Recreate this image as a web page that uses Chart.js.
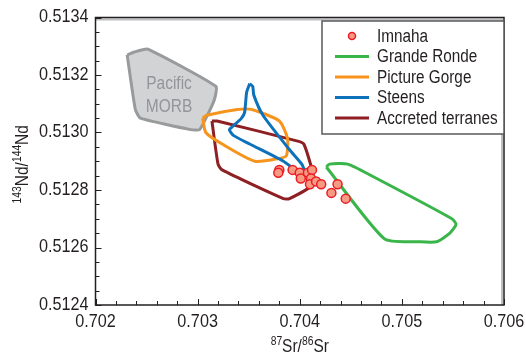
<!DOCTYPE html>
<html>
<head>
<meta charset="utf-8">
<script src="https://cdn.jsdelivr.net/npm/chart.js@4.4.1/dist/chart.umd.min.js"></script>
<style>
  html, body { margin: 0; padding: 0; background: #fff; }
</style>
</head>
<body>
<canvas id="chart" width="526" height="357"></canvas>
<script>
// Axis tick labels
const xTickLabels = ['0.702', '0.703', '0.704', '0.705', '0.706'];
const yTickLabels = ['0.5124', '0.5126', '0.5128', '0.5130', '0.5132', '0.5134'];

// Imnaha samples (87Sr/86Sr, 143Nd/144Nd)
const imnahaSr = [0.70380, 0.70379, 0.70393, 0.70400, 0.70401, 0.70408, 0.70412, 0.70411, 0.70410, 0.70416, 0.70421, 0.70437, 0.70431, 0.70445];
const imnahaNd = [0.51287, 0.51286, 0.51287, 0.51286, 0.51284, 0.51286, 0.51287, 0.51284, 0.51282, 0.51283, 0.51282, 0.51282, 0.51279, 0.51277];

// Field outlines
const grandeRondeSr = [0.70426, 0.70429, 0.70447, 0.70470, 0.70549, 0.70553, 0.70547, 0.70534, 0.70517, 0.70483];
const grandeRondeNd = [0.51288, 0.51289, 0.51289, 0.51285, 0.51270, 0.51268, 0.51265, 0.51262, 0.51262, 0.51263];

const pictureGorgeSr = [0.70305, 0.70309, 0.70339, 0.70353, 0.70380, 0.70388, 0.70387, 0.70380, 0.70356, 0.70324, 0.70308];
const pictureGorgeNd = [0.51305, 0.51306, 0.51308, 0.51308, 0.51304, 0.51298, 0.51292, 0.51291, 0.51290, 0.51296, 0.51300];

const steensSr = [0.70351, 0.70354, 0.70355, 0.70364, 0.70390, 0.70402, 0.70404, 0.70400, 0.70384, 0.70351, 0.70335, 0.70331, 0.70334, 0.70343, 0.70346, 0.70348];
const steensNd = [0.51317, 0.51316, 0.51313, 0.51306, 0.51294, 0.51289, 0.51287, 0.51286, 0.51290, 0.51296, 0.51299, 0.51301, 0.51302, 0.51305, 0.51307, 0.51314];

const accretedSr = [0.70314, 0.70319, 0.70398, 0.70404, 0.70412, 0.70413, 0.70390, 0.70384, 0.70324, 0.70320];
const accretedNd = [0.51304, 0.51304, 0.51297, 0.51296, 0.51287, 0.51282, 0.51277, 0.51277, 0.51287, 0.51289];

const morbSr = [0.70231, 0.70238, 0.70251, 0.70318, 0.70316, 0.70302, 0.70293, 0.70244, 0.70239];
const morbNd = [0.51327, 0.51328, 0.51329, 0.51316, 0.51311, 0.51301, 0.51301, 0.51305, 0.51308];
const morbLabel = ['Pacific', 'MORB'];

const FONT = "'Liberation Sans', Arial, sans-serif";
const INK = '#231f20';

function toPoints(xs, ys, close) {
    const pts = xs.map((x, i) => ({ x: x, y: ys[i] }));
    if (close) pts.push({ x: xs[0], y: ys[0] });
    return pts;
}

function outline(label, xs, ys, color, order) {
    return {
        label: label,
        data: toPoints(xs, ys, true),
        showLine: true,
        borderColor: color,
        backgroundColor: color,
        borderWidth: 3,
        pointRadius: 0,
        tension: 0.2,
        borderJoinStyle: 'round',
        fill: false,
        order: order
    };
}

// Narrow text: the original uses a condensed face, so squeeze horizontally
function narrowText(ctx, text, x, y, size, squeeze, align) {
    ctx.save();
    ctx.font = size + 'px ' + FONT;
    ctx.textAlign = align || 'left';
    ctx.translate(x, y);
    ctx.scale(squeeze, 1);
    ctx.fillText(text, 0, 0);
    ctx.restore();
}

// Text with superscript pieces, e.g. 87Sr/86Sr, centred on x
function drawSupText(ctx, parts, x, y) {
    const squeeze = 0.86;
    let total = 0;
    parts.forEach(p => {
        ctx.font = (p.sup ? 12 : 18) + 'px ' + FONT;
        total += ctx.measureText(p.t).width * squeeze;
    });
    let cx = x - total / 2;
    ctx.textBaseline = 'alphabetic';
    parts.forEach(p => {
        const size = p.sup ? 12 : 18;
        narrowText(ctx, p.t, cx, p.sup ? y - 7 : y, size, squeeze, 'left');
        ctx.font = size + 'px ' + FONT;
        cx += ctx.measureText(p.t).width * squeeze;
    });
}

const xTitle = [{ t: '87', sup: true }, { t: 'Sr/' }, { t: '86', sup: true }, { t: 'Sr' }];
const yTitle = [{ t: '143', sup: true }, { t: 'Nd/' }, { t: '144', sup: true }, { t: 'Nd' }];

const decorPlugin = {
    id: 'decor',
    afterDatasetsDraw(chart) {
        const ctx = chart.ctx;
        const a = chart.chartArea;
        const xs = chart.scales.x;
        const ys = chart.scales.y;
        ctx.save();

        // label inside the MORB field
        ctx.fillStyle = '#939598';
        ctx.textBaseline = 'middle';
        const lx = xs.getPixelForValue(0.70272);
        const ly = ys.getPixelForValue(0.51317);
        narrowText(ctx, morbLabel[0], lx, ly, 18, 0.86, 'center');
        narrowText(ctx, morbLabel[1], lx, ly + 23, 18, 0.86, 'center');

        // frame with soft shadow on top/right
        ctx.strokeStyle = '#bcbec0';
        ctx.lineWidth = 2;
        ctx.beginPath();
        ctx.moveTo(a.left, a.top + 2);
        ctx.lineTo(a.right - 2, a.top + 2);
        ctx.lineTo(a.right - 2, a.bottom);
        ctx.stroke();
        ctx.strokeStyle = INK;
        ctx.lineWidth = 1.5;
        ctx.strokeRect(a.left, a.top, a.right - a.left, a.bottom - a.top);

        // inward ticks
        ctx.lineWidth = 1;
        ctx.beginPath();
        for (let i = 0; i <= 20; i++) {
            const px = Math.round(xs.getPixelForValue(0.702 + i * 0.0002)) + 0.5;
            const len = i % 5 === 0 ? 6 : 4;
            ctx.moveTo(px, a.bottom);
            ctx.lineTo(px, a.bottom - len);
        }
        for (let i = 0; i <= 20; i++) {
            const py = Math.round(ys.getPixelForValue(0.5124 + i * 0.00005)) + 0.5;
            const len = i % 4 === 0 ? 6 : 4;
            ctx.moveTo(a.left, py);
            ctx.lineTo(a.left + len, py);
        }
        ctx.stroke();

        // tick labels
        ctx.fillStyle = INK;
        ctx.textBaseline = 'middle';
        xTickLabels.forEach(t => {
            narrowText(ctx, t, xs.getPixelForValue(parseFloat(t)), a.bottom + 17, 18, 0.9, 'center');
        });
        yTickLabels.forEach(t => {
            narrowText(ctx, t, a.left - 7, ys.getPixelForValue(parseFloat(t)), 18, 0.9, 'right');
        });

        // axis titles
        drawSupText(ctx, xTitle, (a.left + a.right) / 2, 352);
        ctx.save();
        ctx.translate(28, (a.top + a.bottom) / 2 + 3);
        ctx.rotate(-Math.PI / 2);
        drawSupText(ctx, yTitle, 0, 0);
        ctx.restore();

        // legend box
        const box = { left: 322, top: 21, right: a.right, bottom: 134 };
        ctx.fillStyle = '#fff';
        ctx.fillRect(box.left, box.top, box.right - box.left, box.bottom - box.top);
        ctx.strokeStyle = '#58595b';
        ctx.lineWidth = 1.5;
        ctx.strokeRect(box.left, box.top, box.right - box.left, box.bottom - box.top);

        const items = chart.data.datasets.filter(d => d.label);
        items.forEach((d, i) => {
            const y = 36 + i * 20.5;
            if (d.showLine) {
                ctx.strokeStyle = d.borderColor;
                ctx.lineWidth = 3;
                ctx.beginPath();
                ctx.moveTo(335, y);
                ctx.lineTo(369, y);
                ctx.stroke();
            } else {
                ctx.beginPath();
                ctx.arc(352, y, 3.5, 0, Math.PI * 2);
                ctx.fillStyle = d.backgroundColor;
                ctx.fill();
                ctx.strokeStyle = d.borderColor;
                ctx.lineWidth = 1.5;
                ctx.stroke();
            }
            ctx.fillStyle = INK;
            ctx.textBaseline = 'middle';
            narrowText(ctx, d.label, 377, y + 1, 18, 0.85, 'left');
        });
        ctx.restore();
    }
};

const datasets = [
    {
        label: 'Imnaha',
        data: toPoints(imnahaSr, imnahaNd, false),
        pointRadius: 4.5,
        pointHoverRadius: 4.5,
        pointBorderWidth: 1.5,
        borderColor: '#ed1c24',
        backgroundColor: '#f59a83',
        order: 0
    },
    outline('Grande Ronde', grandeRondeSr, grandeRondeNd, '#39b54a', 3),
    outline('Picture Gorge', pictureGorgeSr, pictureGorgeNd, '#f7941d', 2),
    outline('Steens', steensSr, steensNd, '#0d72b9', 1),
    outline('Accreted terranes', accretedSr, accretedNd, '#8e1f22', 3),
    {
        data: toPoints(morbSr, morbNd, true),
        showLine: true,
        borderColor: '#999a9c',
        backgroundColor: '#d1d3d4',
        borderWidth: 3,
        pointRadius: 0,
        tension: 0.15,
        borderJoinStyle: 'round',
        fill: 'shape',
        order: 5
    }
];

new Chart(document.getElementById('chart'), {
    type: 'scatter',
    data: { datasets: datasets },
    options: {
        responsive: false,
        animation: false,
        devicePixelRatio: 1,
        layout: { padding: { left: 0, top: 17.5, right: 22, bottom: 0 } },
        plugins: {
            legend: { display: false },
            tooltip: { enabled: false }
        },
        scales: {
            x: {
                type: 'linear',
                min: 0.702,
                max: 0.706,
                afterBuildTicks: scale => {
                    scale.ticks = xTickLabels.map(t => ({ value: parseFloat(t) }));
                },
                afterFit: scale => { scale.height = 52; },
                grid: { display: false, drawTicks: false },
                border: { display: false },
                ticks: { display: false }
            },
            y: {
                type: 'linear',
                min: 0.5124,
                max: 0.5134,
                afterBuildTicks: scale => {
                    scale.ticks = yTickLabels.map(t => ({ value: parseFloat(t) }));
                },
                afterFit: scale => { scale.width = 95.5; },
                grid: { display: false, drawTicks: false },
                border: { display: false },
                ticks: { display: false }
            }
        }
    },
    plugins: [decorPlugin]
});
</script>
</body>
</html>
